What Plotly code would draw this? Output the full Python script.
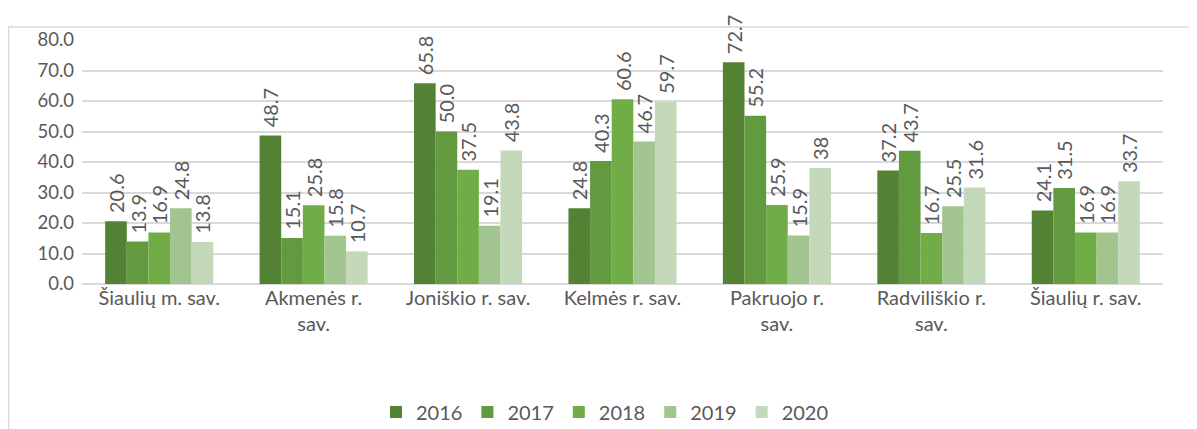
import plotly.graph_objects as go

categories = ["Šiaulių m. sav.", "Akmenės r.<br>sav.", "Joniškio r. sav.", "Kelmės r. sav.",
              "Pakruojo r.<br>sav.", "Radviliškio r.<br>sav.", "Šiaulių r. sav."]
years = ["2016", "2017", "2018", "2019", "2020"]
v2016 = [20.6, 48.7, 65.8, 24.8, 72.7, 37.2, 24.1]
v2017 = [13.9, 15.1, 50.0, 40.3, 55.2, 43.7, 31.5]
v2018 = [16.9, 25.8, 37.5, 60.6, 25.9, 16.7, 16.9]
v2019 = [24.8, 15.8, 19.1, 46.7, 15.9, 25.5, 16.9]
v2020 = [13.8, 10.7, 43.8, 59.7, 38, 31.6, 33.7]
labels2016 = ["20.6", "48.7", "65.8", "24.8", "72.7", "37.2", "24.1"]
labels2017 = ["13.9", "15.1", "50.0", "40.3", "55.2", "43.7", "31.5"]
labels2018 = ["16.9", "25.8", "37.5", "60.6", "25.9", "16.7", "16.9"]
labels2019 = ["24.8", "15.8", "19.1", "46.7", "15.9", "25.5", "16.9"]
labels2020 = ["13.8", "10.7", "43.8", "59.7", "38", "31.6", "33.7"]

series = [v2016, v2017, v2018, v2019, v2020]
texts = [labels2016, labels2017, labels2018, labels2019, labels2020]
colors = ["#548235", "#629A3F", "#70AD47", "#A2C48E", "#C4D8BA"]

FONT = "Lato, Carlito, 'Liberation Sans', sans-serif"
TXT = "#595959"

fig = go.Figure()
for y, vals, t, c in zip(years, series, texts, colors):
    fig.add_trace(go.Bar(
        name=y, x=categories, y=vals, text=["\u00a0" + s for s in t],
        marker_color=c, marker_line_width=0,
        textposition="outside", textangle=-90, cliponaxis=False, constraintext="none",
        textfont=dict(family=FONT, size=20, color=TXT),
    ))

# page has an 8px body margin
W, H = 1189, 421
L, R, T, B = 74, 34, 32, 145
pw, ph = W - L - R, H - T - B

fig.update_layout(
    width=W, height=H, barmode="group", bargap=0.3, bargroupgap=0,
    margin=dict(l=L, r=R, t=T, b=B, autoexpand=False),
    paper_bgcolor="white", plot_bgcolor="white",
    font=dict(family=FONT, size=18, color=TXT),
    legend=dict(orientation="h", x=(597 - L) / pw, xanchor="center", y=(H - B - 404) / ph,
                yanchor="middle", font=dict(family=FONT, size=20, color=TXT),
                itemwidth=30, traceorder="normal"),
    xaxis=dict(showgrid=False, showline=False, ticks="", tickfont=dict(size=20, color=TXT)),
    yaxis=dict(range=[0, 80], dtick=10, tickformat=".1f", showgrid=True, gridcolor="#d9d9d9",
               gridwidth=1.5, zeroline=True, zerolinecolor="#d9d9d9", zerolinewidth=1.5,
               showline=False, ticks="", tickfont=dict(size=18.5, color=TXT), ticklabelstandoff=7),
    shapes=[dict(type="rect", xref="paper", yref="paper",
                 x0=(0.5 - L) / pw, x1=(W + 20 - L) / pw,
                 y0=(H - B - (H + 20)) / ph, y1=(H - B - 19) / ph,
                 line=dict(color="#d9d9d9", width=1.5), fillcolor="rgba(0,0,0,0)", layer="below")],
)

fig.write_html("out.html")
